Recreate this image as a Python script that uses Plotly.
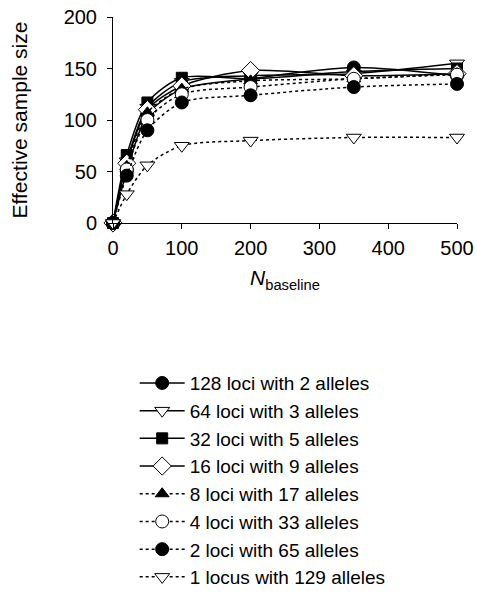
import plotly.graph_objects as go

n_baseline = [0, 20, 50, 100, 200, 350, 500]

names = [
    "128 loci with 2 alleles",
    "64 loci with 3 alleles",
    "32 loci with 5 alleles",
    "16 loci with 9 alleles",
    "8 loci with 17 alleles",
    "4 loci with 33 alleles",
    "2 loci with 65 alleles",
    "1 locus with 129 alleles",
]

loci128 = [0, 50, 105, 130, 140, 151, 143]
loci64 = [0, 60, 112, 137, 143, 145, 155]
loci32 = [0, 66, 117, 141, 140, 147, 150]
loci16 = [0, 58, 110, 133, 148, 143, 145]
loci8 = [0, 55, 107, 130, 138, 140, 145]
loci4 = [0, 52, 100, 125, 132, 140, 144]
loci2 = [0, 46, 90, 117, 124, 132, 135]
loci1 = [0, 28, 56, 75, 80, 83, 83]

series = [loci128, loci64, loci32, loci16, loci8, loci4, loci2, loci1]
dashes = ["solid"] * 4 + ["dot"] * 4
symbols = ["circle", "triangle-down", "square", "diamond",
           "triangle-up", "circle", "circle", "triangle-down"]
fills = ["black", "white", "black", "white", "black", "white", "black", "white"]
sizes = [13, 13, 11, 14, 12, 13, 13, 13]

fig = go.Figure()
for name, ys, dash, sym, fill, sz in zip(names, series, dashes, symbols, fills, sizes):
    fig.add_trace(go.Scatter(
        x=n_baseline, y=ys, name=name, mode="lines+markers",
        line=dict(color="black", width=1.5, dash=dash, shape="spline", smoothing=0.8),
        marker=dict(symbol=sym, size=sz, color=fill, line=dict(color="black", width=1)),
        cliponaxis=False,
    ))

font = "Liberation Sans, Arial, sans-serif"
fig.update_layout(
    width=477, height=598,
    margin=dict(l=113, r=20, t=17, b=375, autoexpand=False),
    paper_bgcolor="white", plot_bgcolor="white",
    font=dict(family=font, size=20, color="black"),
    showlegend=True,
    legend=dict(
        x=0.063, y=-0.685, xanchor="left", yanchor="top",
        font=dict(size=19, family=font),
        itemwidth=45, tracegroupgap=0, traceorder="normal",
        bgcolor="rgba(0,0,0,0)",
    ),
    xaxis=dict(
        range=[0, 500], dtick=100, tick0=0, showgrid=False, zeroline=False,
        showline=True, linecolor="black", linewidth=1,
        ticks="outside", ticklen=5, tickcolor="black",
        tickfont=dict(size=20), ticklabelstandoff=2,
        title=dict(text="<i>N</i><sub>baseline</sub>", font=dict(size=21), standoff=12),
    ),
    yaxis=dict(
        range=[0, 200], dtick=50, tick0=0, showgrid=False, zeroline=False,
        showline=True, linecolor="black", linewidth=1,
        ticks="outside", ticklen=5, tickcolor="black",
        tickfont=dict(size=20), ticklabelstandoff=6,
        title=dict(text="Effective sample size", font=dict(size=21), standoff=30),
    ),
)

fig.write_html("out.html")
